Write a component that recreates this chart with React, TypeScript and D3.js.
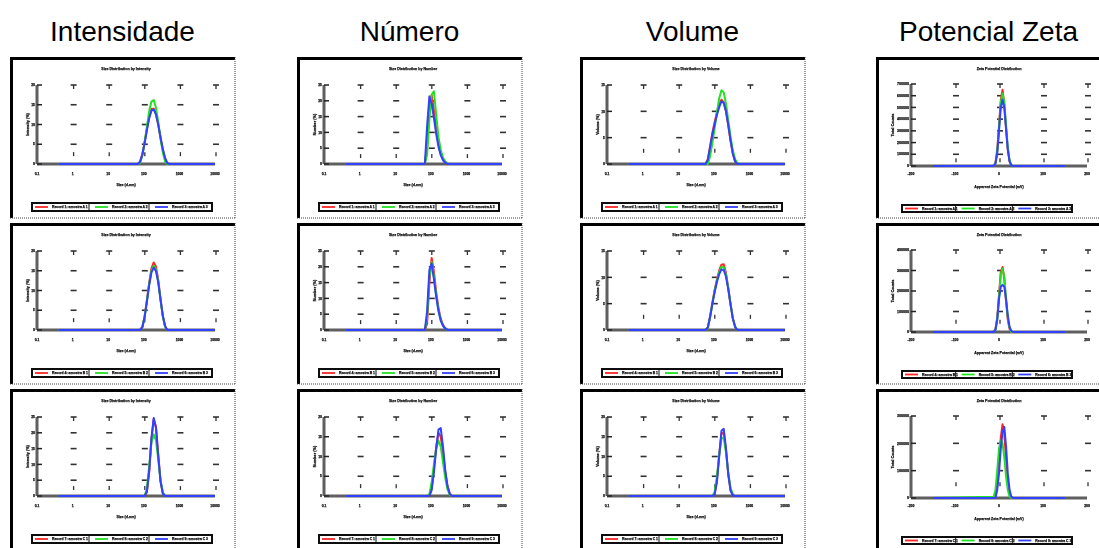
import React from 'react';
import * as d3 from 'd3';

const COLUMN_TITLES = ['Intensidade', 'Número', 'Volume', 'Potencial Zeta'];
const PANEL_TITLES = ['Size Distribution by Intensity', 'Size Distribution by Number', 'Size Distribution by Volume', 'Zeta Potential Distribution'];
const Y_LABELS = ['Intensity (%)', 'Number (%)', 'Volume (%)', 'Total Counts'];
const X_LABELS = ['Size (d.nm)', 'Size (d.nm)', 'Size (d.nm)', 'Apparent Zeta Potential (mV)'];
const SIZE_TICKS = [0.1, 1, 10, 100, 1000, 10000];
const ZETA_TICKS = [-200, -100, 0, 100, 200];
const RECORD_NAMES = [
  ['Record 1: amostra A 1', 'Record 2: amostra A 2', 'Record 3: amostra A 3'],
  ['Record 4: amostra B 1', 'Record 5: amostra B 2', 'Record 6: amostra B 3'],
  ['Record 7: amostra C 1', 'Record 8: amostra C 2', 'Record 9: amostra C 3'],
];
const SERIES_COLORS = ['#ff2424', '#22e022', '#3040ff'];

// size bins (nm) and zeta bins (mV)
const SIZE_NM = [0.4, 58.77, 68.06, 78.82, 91.28, 105.7, 122.4, 141.8, 164.2, 190.1, 220.2, 255.0, 295.3, 342.0, 396.1, 458.7, 531.2, 10000];
const ZETA_MV = [-150, -12, -8, -4, 0, 4, 8, 12, 16, 20, 24, 28, 32, 150];

// [red, green, blue] per panel
const INT_1 = [
  [0, 0, 0, 0.6, 2.5, 5.5, 8.9, 11.9, 13.9, 14.0, 12.6, 9.9, 6.6, 3.7, 1.4, 0.2, 0, 0],
  [0, 0, 0, 0.3, 2.2, 5.6, 9.5, 13.4, 15.8, 16.2, 14.2, 10.6, 6.4, 2.9, 0.6, 0, 0, 0],
  [0, 0, 0, 0.6, 2.4, 5.3, 8.6, 11.6, 13.5, 13.8, 12.5, 9.9, 6.7, 3.8, 1.5, 0.2, 0, 0],
];
const INT_2 = [
  [0, 0, 0, 0, 0.8, 3.5, 7.6, 12.0, 15.6, 17.1, 16.0, 12.6, 7.8, 3.6, 0.9, 0, 0, 0],
  [0, 0, 0, 0, 0.8, 3.4, 7.4, 11.7, 15.0, 16.3, 15.3, 12.2, 7.6, 3.5, 0.9, 0, 0, 0],
  [0, 0, 0, 0, 0.7, 3.3, 7.2, 11.4, 14.6, 15.8, 14.9, 12.0, 7.6, 3.6, 1.0, 0, 0, 0],
];
const INT_3 = [
  [0, 0, 0, 0, 0, 0, 1.3, 7.6, 18.0, 24.3, 21.8, 13.0, 4.8, 0.9, 0, 0, 0, 0],
  [0, 0, 0, 0, 0, 0, 2.5, 9.5, 17.0, 19.5, 17.5, 11.5, 5.0, 1.2, 0, 0, 0, 0],
  [0, 0, 0, 0, 0, 0, 1.5, 8.0, 18.5, 24.7, 21.5, 12.5, 4.5, 0.8, 0, 0, 0, 0],
];
const NUM_1 = [
  [0, 0, 0, 6, 18, 21.8, 17, 11, 6.5, 3.3, 1.4, 0.5, 0, 0, 0, 0, 0, 0],
  [0, 0, 0, 3, 14, 22, 23, 15.5, 8.5, 4.5, 2, 0.8, 0.2, 0, 0, 0, 0, 0],
  [0, 0, 0, 12, 21.4, 19, 14.5, 9.5, 5.5, 2.8, 1.2, 0.4, 0, 0, 0, 0, 0, 0],
];
const NUM_2 = [
  [0, 0, 0, 2, 15, 22.8, 18.5, 12, 7, 3.6, 1.6, 0.6, 0.1, 0, 0, 0, 0, 0],
  [0, 0, 0, 4, 17, 21.5, 17, 11, 6.4, 3.2, 1.4, 0.5, 0, 0, 0, 0, 0, 0],
  [0, 0, 0, 6, 19, 21, 16, 10.5, 6, 3, 1.3, 0.4, 0, 0, 0, 0, 0, 0],
];
const NUM_3 = [
  [0, 0, 0, 0, 0, 2, 7, 12.5, 16, 15, 11, 6, 2.5, 0.6, 0, 0, 0, 0],
  [0, 0, 0, 0, 0.5, 3.5, 8, 12, 14, 12.5, 8.5, 4.5, 1.6, 0.3, 0, 0, 0, 0],
  [0, 0, 0, 0, 0, 1.5, 6, 12, 16.8, 17.2, 12.5, 6.5, 2.4, 0.5, 0, 0, 0, 0],
];
const VOL_1 = [
  [0, 0, 0.9, 3.4, 5.9, 8.0, 9.8, 11.3, 12.2, 11.7, 10, 7.3, 4.4, 2, 0.5, 0, 0, 0],
  [0, 0, 0, 1.5, 4, 6.8, 9.8, 12.5, 14.0, 13.6, 11.4, 8.3, 5.2, 2.6, 0.9, 0.2, 0, 0],
  [0, 0, 0.8, 3.2, 5.6, 7.6, 9.3, 10.8, 11.9, 11.6, 10, 7.4, 4.5, 2, 0.5, 0, 0, 0],
];
const VOL_2 = [
  [0, 0, 0.5, 2.6, 5.2, 7.6, 9.6, 11.3, 12.4, 12.5, 10.8, 8.0, 4.9, 2.2, 0.6, 0, 0, 0],
  [0, 0, 0.4, 2.4, 5.0, 7.4, 9.4, 11, 12.0, 11.9, 10.5, 7.9, 4.9, 2.3, 0.7, 0, 0, 0],
  [0, 0, 0.5, 2.5, 5.0, 7.2, 9.1, 10.6, 11.5, 11.4, 10.1, 7.7, 4.8, 2.2, 0.6, 0, 0, 0],
];
const VOL_3 = [
  [0, 0, 0, 0, 0, 0.5, 4, 10.5, 15.8, 16, 11.5, 5.5, 1.5, 0.2, 0, 0, 0, 0],
  [0, 0, 0, 0, 0, 1, 5, 10.5, 14.5, 14.8, 11, 5.8, 2, 0.4, 0, 0, 0, 0],
  [0, 0, 0, 0, 0, 0.4, 3.5, 10, 16.5, 17, 12, 5.5, 1.4, 0.2, 0, 0, 0, 0],
];
const ZETA_1 = [
  [0, 0, 30000, 140000, 340000, 560000, 650000, 530000, 320000, 140000, 40000, 5000, 0, 0],
  [0, 0, 20000, 120000, 320000, 540000, 620000, 550000, 350000, 160000, 50000, 10000, 0, 0],
  [0, 0, 20000, 110000, 300000, 500000, 565000, 500000, 320000, 140000, 40000, 5000, 0, 0],
];
const ZETA_2 = [
  [0, 0, 15000, 70000, 180000, 290000, 317000, 260000, 150000, 60000, 15000, 0, 0, 0],
  [0, 0, 10000, 60000, 170000, 280000, 310000, 270000, 160000, 70000, 20000, 0, 0, 0],
  [0, 0, 10000, 60000, 160000, 220000, 230000, 220000, 160000, 80000, 25000, 5000, 0, 0],
];
const ZETA_3 = [
  [0, 0, 10000, 50000, 130000, 220000, 270000, 240000, 140000, 60000, 15000, 0, 0, 0],
  [0, 5000, 30000, 100000, 180000, 210000, 200000, 150000, 80000, 30000, 5000, 0, 0, 0],
  [0, 0, 0, 30000, 90000, 180000, 240000, 260000, 190000, 90000, 30000, 5000, 0, 0],
];

const Y_TICKS = [
  [[0, 5, 10, 15, 20], [0, 5, 10, 15, 20, 25], [0, 5, 10, 15], [0, 100000, 200000, 300000, 400000, 500000, 600000, 700000]],
  [[0, 5, 10, 15, 20], [0, 5, 10, 15, 20, 25], [0, 5, 10, 15], [0, 100000, 200000, 300000, 400000]],
  [[0, 5, 10, 15, 20, 25], [0, 5, 10, 15, 20], [0, 5, 10, 15, 20], [0, 100000, 200000, 300000]],
];

const GRID = [
  [INT_1, NUM_1, VOL_1, ZETA_1],
  [INT_2, NUM_2, VOL_2, ZETA_2],
  [INT_3, NUM_3, VOL_3, ZETA_3],
];

const COL_X = [10, 297, 580, 876];
const ROW_Y = [57, 223, 389];
const FW = 225;
const FH = 161;
const FONT = '"Liberation Sans", Arial, sans-serif';

function Panel({ col, row }: { col: number; row: number }) {
  const zeta = col === 3;
  const left = zeta ? 35 : 27;
  const right = zeta ? 211 : 205;
  const top = zeta ? 27 : 28;
  const bottom = zeta ? 109 : 107;
  const yTicks = Y_TICKS[row][col];
  const xTicks = zeta ? ZETA_TICKS : SIZE_TICKS;
  const xs = zeta ? ZETA_MV : SIZE_NM;

  const x: any = zeta
    ? d3.scaleLinear().domain([-200, 200]).range([left, right])
    : d3.scaleLog().domain([0.1, 10000]).range([left, right]);
  const y = d3.scaleLinear().domain([0, yTicks[yTicks.length - 1]]).range([bottom, top]);
  const line = d3.line<number>().x((_, i) => x(xs[i])).y(d => y(d));

  const legTop = zeta ? 148 : 146;
  const legLeft = zeta ? 26 : 22;
  const legW = zeta ? 170 : 180;
  const legH = zeta ? 7 : 8;
  const entryW = legW / 3;
  const midY = (y(0) + y(yTicks[1])) / 2;
  const txt = { fontWeight: 'bold' as const, fontFamily: FONT, fill: '#111', stroke: '#111', strokeWidth: 0.25 };

  return (
    <g transform={`translate(${COL_X[col]},${ROW_Y[row]})`}>
      <rect x={0} y={0} width={FW} height={FH} fill="#fff" />
      <g filter="url(#soft)">
        {/* aliased grid marks */}
        {xTicks.slice(1).map(t => (
          <g key={'g' + t}>
            {yTicks.slice(1).map(v => (
              <line key={v} x1={x(t) - 2} x2={x(t) + 4} y1={y(v)} y2={y(v)} stroke="#333" strokeWidth={1.6} />
            ))}
            <line x1={x(t) + 1} x2={x(t) + 1} y1={y(yTicks[yTicks.length - 1])} y2={y(yTicks[yTicks.length - 1]) + 4} stroke="#333" strokeWidth={1.3} />
            <line x1={x(t) + 1} x2={x(t) + 1} y1={midY - 2} y2={midY + 2} stroke="#333" strokeWidth={1.3} />
          </g>
        ))}
        {/* axes */}
        <line x1={left} x2={right} y1={bottom} y2={bottom} stroke="#5e5e5e" strokeWidth={3} />
        <line x1={left} x2={left} y1={top} y2={bottom} stroke="#5e5e5e" strokeWidth={3} />
        {yTicks.map(v => (
          <g key={'yt' + v}>
            <line x1={left} x2={left + 5} y1={y(v)} y2={y(v)} stroke="#222" strokeWidth={1.5} />
            <text x={left - 2} y={y(v) + 1.2} fontSize={zeta ? 3.6 : 3.4} textAnchor="end" {...txt}>{v}</text>
          </g>
        ))}
        {xTicks.map(t => (
          <text key={'xt' + t} x={x(t)} y={118} fontSize={3.4} textAnchor="middle" {...txt}>{t}</text>
        ))}
        <text x={(left + right) / 2} y={13} fontSize={3.6} textAnchor="middle" {...txt}>{PANEL_TITLES[col]}</text>
        <text x={(left + right) / 2} y={zeta ? 131 : 129} fontSize={3.6} textAnchor="middle" {...txt}>{X_LABELS[col]}</text>
        <text transform={`translate(${zeta ? 18 : 19},${(top + bottom) / 2}) rotate(-90)`} fontSize={3.8} textAnchor="middle" {...txt}>{Y_LABELS[col]}</text>
        {/* series */}
        {GRID[row][col].map((vals, i) => (
          <path key={'s' + i} d={line(vals) || ''} fill="none" stroke={SERIES_COLORS[i]} strokeWidth={2} strokeLinejoin="round" />
        ))}
        {/* legend */}
        <rect x={legLeft} y={legTop} width={legW} height={legH} fill="#fff" stroke="#111" strokeWidth={2} />
        {RECORD_NAMES[row].map((name, i) => (
          <g key={'l' + i}>
            <line x1={legLeft + i * entryW + 3} x2={legLeft + i * entryW + 16} y1={legTop + legH / 2} y2={legTop + legH / 2} stroke={SERIES_COLORS[i]} strokeWidth={1.8} />
            <text x={legLeft + i * entryW + 20} y={legTop + legH / 2 + 1.2} fontSize={3.4} {...txt}>{name}</text>
            {i < 2 && <line x1={legLeft + (i + 1) * entryW - 3} x2={legLeft + (i + 1) * entryW - 3} y1={legTop} y2={legTop + legH} stroke="#111" strokeWidth={1} />}
          </g>
        ))}
      </g>
      {/* frame */}
      <line x1={0} x2={FW} y1={1.5} y2={1.5} stroke="#000" strokeWidth={3} />
      <line x1={1.5} x2={1.5} y1={0} y2={FH} stroke="#000" strokeWidth={3} />
      <line x1={FW} x2={FW} y1={0} y2={FH} stroke="#444" strokeWidth={1} strokeDasharray="1,1" />
      <line x1={0} x2={FW} y1={FH} y2={FH} stroke="#444" strokeWidth={1} strokeDasharray="1,1" />
    </g>
  );
}

export default function App() {
  return (
    <svg width={1099} height={548} style={{ position: 'absolute', left: 0, top: 0, background: '#fff' }}>
      <defs>
        <filter id="soft" x="-5%" y="-5%" width="110%" height="110%">
          <feGaussianBlur stdDeviation={0.4} />
        </filter>
      </defs>
      {COLUMN_TITLES.map((t, c) => (
        <text key={t} x={COL_X[c] + FW / 2} y={41} fontSize={28} textAnchor="middle" fontFamily={FONT} fill="#000">{t}</text>
      ))}
      {ROW_Y.map((_, r) => COL_X.map((_, c) => <Panel key={r + '-' + c} row={r} col={c} />))}
    </svg>
  );
}
